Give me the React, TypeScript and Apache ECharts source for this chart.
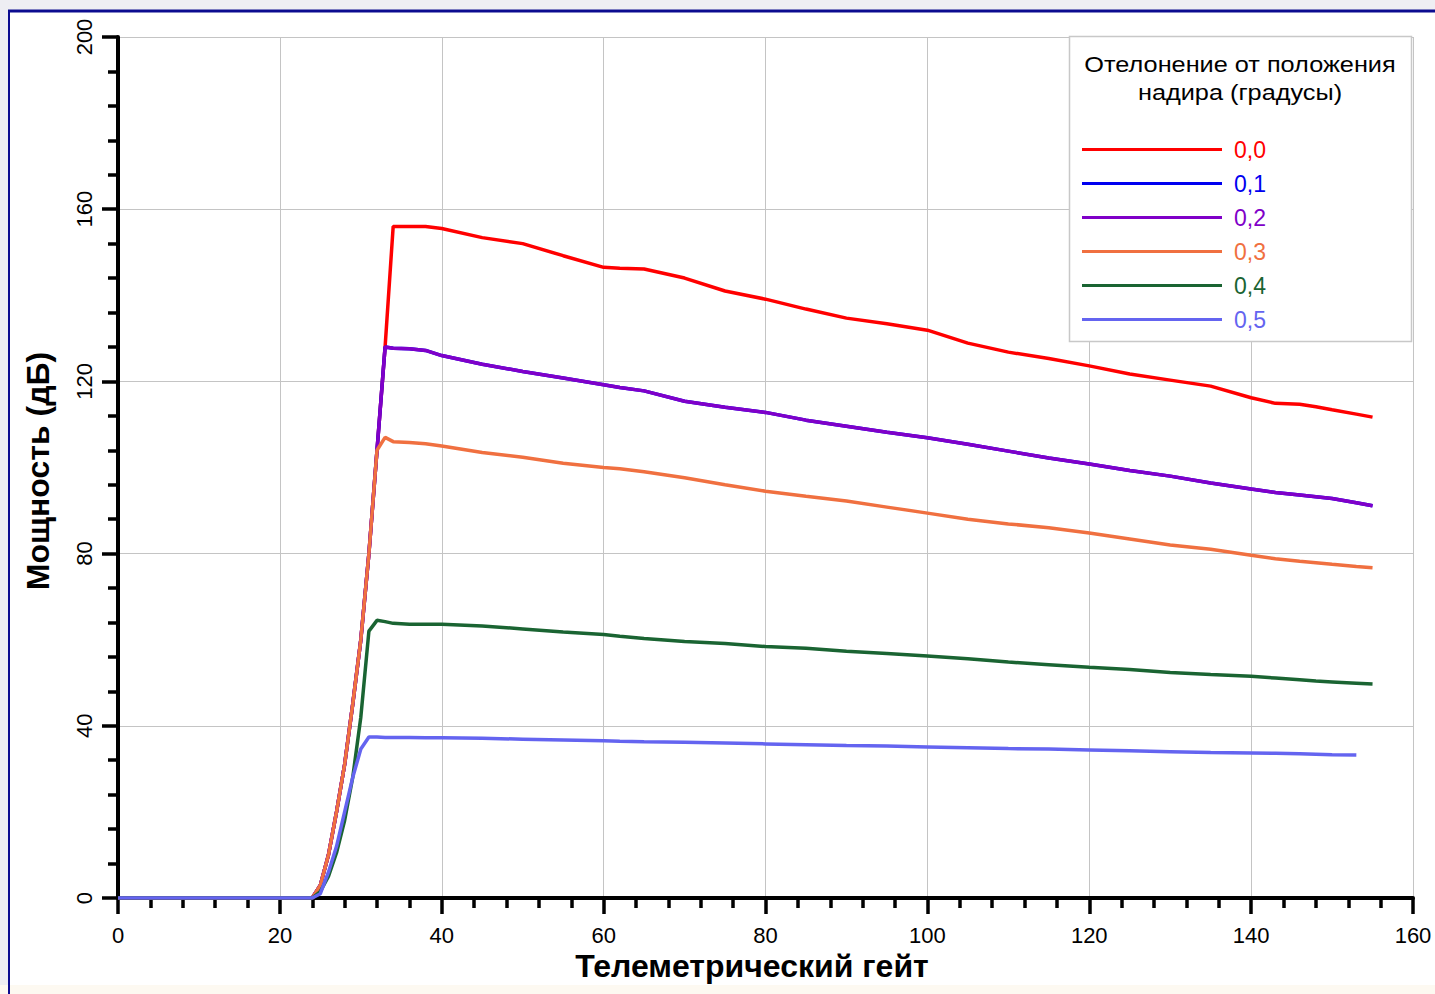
import React, { useEffect, useRef } from "react";
import * as echarts from "echarts";

const gates = [0, 24, 25, 26, 27, 28, 29, 30, 31, 32, 33, 34, 36, 38, 40, 45, 50, 55, 60, 62, 65, 70, 75, 80, 85, 90, 95, 100, 105, 110, 115, 120, 125, 130, 135, 140, 143, 146, 148, 150, 153, 155];

const dev00 = [0, 0, 3, 10, 20, 31, 45, 60, 80, 104, 128, 156, 156, 156, 155.5, 153.4, 152, 149.2, 146.5, 146.3, 146.1, 144, 141, 139.1, 136.8, 134.7, 133.4, 131.9, 128.9, 126.8, 125.3, 123.6, 121.7, 120.3, 118.9, 116.2, 114.9, 114.7, 114.1, 113.4, 112.4, 111.7];
const dev01 = [0, 0, 3, 10, 20, 31, 45, 60, 80, 104, 128, 127.7, 127.6, 127.2, 126, 124, 122.3, 120.8, 119.2, 118.6, 117.8, 115.4, 114, 112.8, 111, 109.6, 108.2, 106.9, 105.4, 103.8, 102.2, 100.8, 99.3, 98, 96.4, 95, 94.2, 93.6, 93.2, 92.8, 91.8, 91.1];
const dev02 = [0, 0, 3, 10, 20, 31, 45, 60, 80, 104, 128, 127.7, 127.6, 127.2, 126, 124, 122.3, 120.8, 119.2, 118.6, 117.8, 115.4, 114, 112.8, 111, 109.6, 108.2, 106.9, 105.4, 103.8, 102.2, 100.8, 99.3, 98, 96.4, 95, 94.2, 93.6, 93.2, 92.8, 91.8, 91.1];
const dev03 = [0, 0, 3, 10, 20, 31, 45, 60, 80, 104, 107, 106, 105.8, 105.5, 105, 103.5, 102.4, 101, 100, 99.7, 99, 97.6, 96, 94.5, 93.3, 92.2, 90.8, 89.4, 88, 86.9, 86, 84.8, 83.4, 82, 81, 79.6, 78.8, 78.2, 77.9, 77.5, 77, 76.7];
const dev04 = [0, 0, 1.5, 5, 10.5, 18, 28, 42, 62, 64.5, 64.2, 63.8, 63.6, 63.6, 63.6, 63.2, 62.5, 61.8, 61.2, 60.8, 60.3, 59.6, 59.1, 58.4, 58, 57.3, 56.8, 56.2, 55.6, 54.8, 54.2, 53.6, 53.1, 52.4, 51.9, 51.5, 51.1, 50.7, 50.4, 50.2, 49.9, 49.7];
const dev05 = [0, 0, 1, 6, 12, 20, 28, 34.6, 37.4, 37.4, 37.3, 37.3, 37.3, 37.2, 37.2, 37.1, 36.9, 36.7, 36.5, 36.4, 36.3, 36.2, 36, 35.8, 35.6, 35.4, 35.3, 35.1, 34.9, 34.7, 34.6, 34.4, 34.2, 34, 33.8, 33.7, 33.6, 33.5, 33.4, 33.3, 33.2, null];

const seriesNames = ["0,0", "0,1", "0,2", "0,3", "0,4", "0,5"];
const seriesColors = ["#ff0000", "#0000f0", "#8000c8", "#f07040", "#1a6432", "#6464f0"];
const seriesValues = [dev00, dev01, dev02, dev03, dev04, dev05];

const xTicks = { min: 0, max: 160, interval: 20 };
const yTicks = { min: 0, max: 200, interval: 40 };

const legendTitle = ["Отелонение от положения", "надира (градусы)"];
const xTitle = "Телеметрический гейт";
const yTitle = "Мощность (дБ)";

const FONT = "'Liberation Sans', Arial, sans-serif";

export default function App() {
  const ref = useRef<HTMLDivElement>(null);
  useEffect(() => {
    document.body.style.margin = "0";
    const chart = echarts.init(ref.current!, null, { renderer: "svg" });
    const series = seriesNames.map((name, i) => ({
      name,
      type: "line",
      showSymbol: false,
      connectNulls: false,
      lineStyle: { width: 3.5, color: seriesColors[i] },
      itemStyle: { color: seriesColors[i] },
      data: gates.map((g, k) => [g, seriesValues[i][k]]),
      z: 2,
    }));
    chart.setOption({
      animation: false,
      backgroundColor: "#eeeef3",
      textStyle: { fontFamily: FONT },
      grid: { left: 118, top: 37, right: 22, bottom: 96 },
      xAxis: {
        type: "value",
        min: xTicks.min,
        max: xTicks.max,
        interval: xTicks.interval,
        axisLine: { show: true, onZero: false, lineStyle: { color: "#000", width: 4 } },
        axisTick: { show: true, length: 16, lineStyle: { color: "#000", width: 3.5 } },
        minorTick: { show: true, splitNumber: 5, length: 10, lineStyle: { color: "#000", width: 3.5 } },
        splitLine: { show: true, lineStyle: { color: "#c4c4c4", width: 1 } },
        axisLabel: { margin: 26, fontSize: 22, color: "#000", fontFamily: FONT },
      },
      yAxis: {
        type: "value",
        min: yTicks.min,
        max: yTicks.max,
        interval: yTicks.interval,
        axisLine: { show: true, onZero: false, lineStyle: { color: "#000", width: 4 } },
        axisTick: { show: true, length: 16, lineStyle: { color: "#000", width: 3.5 } },
        minorTick: { show: true, splitNumber: 5, length: 10, lineStyle: { color: "#000", width: 3.5 } },
        splitLine: { show: true, lineStyle: { color: "#c4c4c4", width: 1 } },
        axisLabel: { margin: 23, fontSize: 22, rotate: 90, color: "#000", fontFamily: FONT },
      },
      legend: {
        orient: "vertical",
        left: 1082,
        top: 138,
        padding: 0,
        itemWidth: 140,
        itemHeight: 3,
        itemGap: 11,
        icon: "rect",
        z: 6,
        data: seriesNames.map((n, i) => ({
          name: n,
          textStyle: { color: seriesColors[i], fontSize: 23, fontFamily: FONT, padding: [0, 0, 0, 7] },
        })),
      },
      graphic: [
        { type: "rect", z: -10, silent: true, shape: { x: 9, y: 11, width: 1426, height: 974 }, style: { fill: "#ffffff" } },
        { type: "rect", z: -9, silent: true, shape: { x: 0, y: 985, width: 1435, height: 9 }, style: { fill: "#fdf9f1" } },
        { type: "line", z: -8, silent: true, shape: { x1: 8, y1: 11, x2: 1435, y2: 11 }, style: { stroke: "#0c0c90", lineWidth: 3 } },
        { type: "line", z: -8, silent: true, shape: { x1: 9, y1: 10, x2: 9, y2: 994 }, style: { stroke: "#0c0c90", lineWidth: 2 } },
        { type: "rect", z: 3, silent: true, shape: { x: 1069.5, y: 36.5, width: 342, height: 305 }, style: { fill: "#ffffff", stroke: "#c8c8c8", lineWidth: 1.5 } },
        { type: "text", z: 7, x: 1240, y: 65, scaleX: 1.15, style: { text: legendTitle[0], fontSize: 22, fontFamily: FONT, fill: "#000", align: "center", verticalAlign: "middle" } },
        { type: "text", z: 7, x: 1240, y: 93, scaleX: 1.15, style: { text: legendTitle[1], fontSize: 22, fontFamily: FONT, fill: "#000", align: "center", verticalAlign: "middle" } },
        { type: "text", z: 7, x: 752, y: 966, style: { text: xTitle, fontSize: 32, fontWeight: "bold", fontFamily: FONT, fill: "#000", align: "center", verticalAlign: "middle" } },
        { type: "text", z: 7, x: 38, y: 471, rotation: Math.PI / 2, style: { text: yTitle, fontSize: 32, fontWeight: "bold", fontFamily: FONT, fill: "#000", align: "center", verticalAlign: "middle" } },
      ],
      series,
    });
    return () => chart.dispose();
  }, []);
  return <div ref={ref} style={{ width: 1435, height: 994 }} />;
}
